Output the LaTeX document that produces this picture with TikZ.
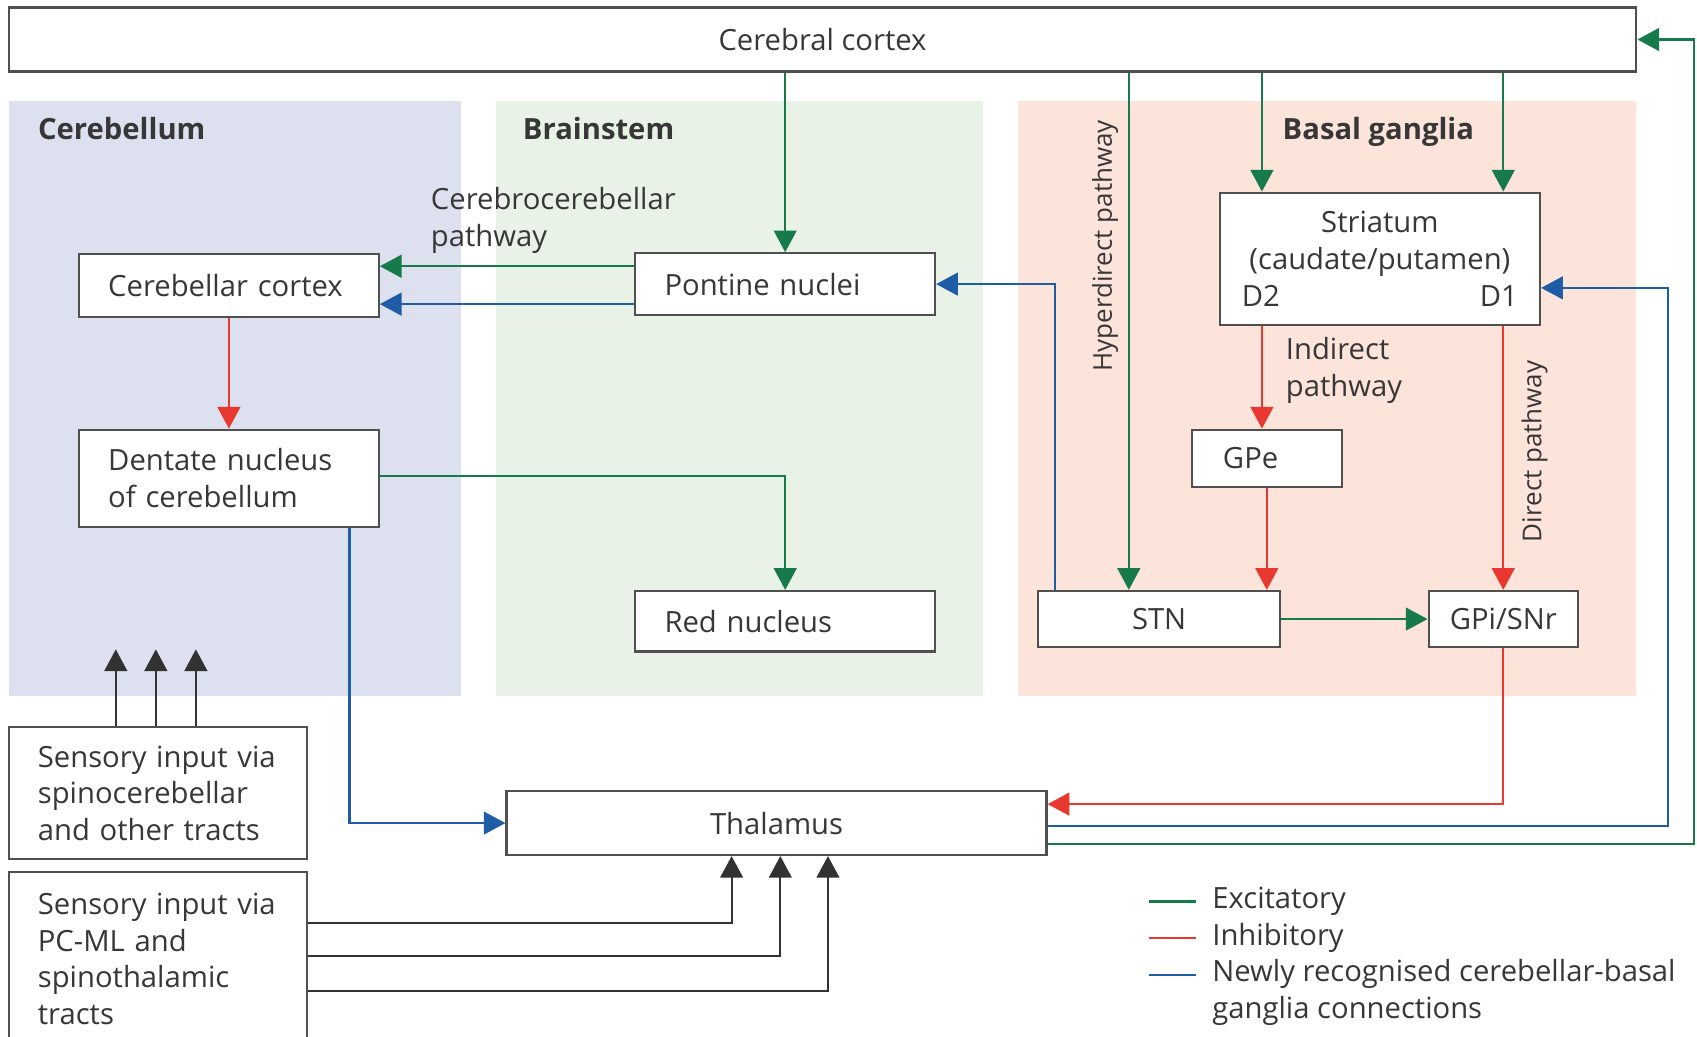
\documentclass[tikz,border=0pt]{standalone}
\usepackage{fontspec}
\setmainfont{Open Sans}
\usetikzlibrary{arrows.meta,calc}
\definecolor{cgreen}{RGB}{22,122,74}
\definecolor{cred}{RGB}{232,56,47}
\definecolor{cblue}{RGB}{30,92,166}
\definecolor{cblack}{RGB}{50,50,50}
\definecolor{boxgray}{RGB}{80,80,80}
\definecolor{txt}{RGB}{55,55,55}
\definecolor{pcereb}{RGB}{220,224,239}
\definecolor{pbrain}{RGB}{233,242,230}
\definecolor{pbasal}{RGB}{252,228,218}
\newcommand\fsmain{\fontsize{27}{34}\selectfont}
\newcommand\fsrot{\fontsize{24}{30}\selectfont}
\newcommand\fstitle{\bfseries\fontsize{27}{34}\selectfont}
\tikzset{
  box/.style={draw=boxgray, line width=2pt, fill=white, inner sep=0pt, font=\fsmain, text=txt},
  lbox/.style={box, align=left, inner xsep=27pt},
  cbox/.style={box, align=center},
  lab/.style={inner sep=0pt, font=\fsmain, text=txt, align=left},
  rlab/.style={inner sep=0pt, font=\fsrot, text=txt, rotate=90},
  ttl/.style={inner sep=0pt, font=\fstitle, text=txt, anchor=base west},
  tip/.style={-{Triangle[length=20pt,width=21pt]}},
  excl/.style={tip, draw=cgreen, line width=2pt},
  inhl/.style={tip, draw=cred, line width=2pt},
  newl/.style={tip, draw=cblue, line width=2pt},
  sensl/.style={tip, draw=cblack, line width=2pt},
}
\begin{document}
\begin{tikzpicture}[x=1pt,y=-1pt]
\clip (0,0) rectangle (1568,958);
\fill[white] (0,0) rectangle (1568,958);
% panels
\fill[pcereb] (8,93) rectangle (426,643);
\fill[pbrain] (458,93) rectangle (908,643);
\fill[pbasal] (941,93) rectangle (1512,643);
\node[ttl] (tcereb) at (35,129) {Cerebellum};
\node[ttl] (tbrain) at (483,129) {Brainstem};
\node[ttl] (tbasal) at (1185,129) {Basal ganglia};
% boxes
\node[cbox, minimum width=1504pt, minimum height=59pt] (cortex) at (760,36.5) {Cerebral cortex};
\node[lbox, text width=223pt, minimum height=58pt] (cbcortex) at (211.5,264) {Cerebellar cortex};
\node[lbox, text width=223pt, minimum height=57pt] (pontine) at (725.5,262.5) {Pontine nuclei};
\node[lbox, text width=223pt, minimum height=90pt] (dentate) at (211.5,442) {Dentate nucleus\\of cerebellum};
\node[lbox, text width=223pt, minimum height=56pt] (rednuc) at (725.5,574) {Red nucleus};
\node[cbox, text width=255pt, inner xsep=20.5pt, minimum height=122pt] (striatum) at (1275,239) {Striatum\\(caudate/putamen)\\\makebox[255pt]{D2\hfill D1}};
\node[lbox, inner xsep=29pt, text width=81pt, minimum height=53pt] (gpe) at (1170.5,423.5) {GPe};
\node[cbox, minimum width=224pt, minimum height=52pt] (stn) at (1071,572) {STN};
\node[cbox, minimum width=138pt, minimum height=52pt] (gpi) at (1389,572) {GPi/SNr};
\node[cbox, minimum width=499pt, minimum height=59pt] (thal) at (717.5,760.5) {Thalamus};
\node[lbox, text width=222pt, minimum height=122pt] (sens1) at (146,733) {Sensory input via\\spinocerebellar\\and other tracts};
\node[lbox, text width=222pt, minimum height=160pt] (sens2) at (146,886) {Sensory input via\\PC-ML and\\spinothalamic\\tracts};
% labels
\node[lab, anchor=west] (lcc) at (398,204) {Cerebrocerebellar\\pathway};
\node[lab, anchor=west] (lind) at (1188,342) {Indirect\\pathway};
\node[rlab] (lhyp) at (1021,227) {Hyperdirect pathway};
\node[rlab] (ldir) at (1418,417) {Direct pathway};
% coordinates
\coordinate (pg) at ($(pontine.west)+(0,-16.5)$);
\coordinate (pb) at ($(pontine.west)+(0,18.5)$);
\coordinate (dx) at ($(dentate.south east)+(-28,0)$);
\coordinate (hx) at (1043,0);
\coordinate (d2x) at (1166,0);
\coordinate (stnb) at (975,0);
\coordinate (gr) at ($(thal.east)+(0,-17.5)$);
\coordinate (tbs) at ($(thal.east)+(0,2.5)$);
\coordinate (tgs) at ($(thal.east)+(0,19.5)$);
\coordinate (tb) at (1541,266);
\coordinate (tc) at (1565,36.5);
\coordinate (sa) at (107,600);
\coordinate (sb) at (144,600);
\coordinate (sc) at (181,600);
\coordinate (ta) at (676,853);
\coordinate (tbb) at (721,883);
\coordinate (tcc) at (765,916);
% connectors
\draw[excl] (cortex.south -| pontine) -- (pontine.north);
\draw[excl] (pg) -- (cbcortex.east |- pg);
\draw[newl] (pb) -- (cbcortex.east |- pb);
\draw[inhl] (cbcortex.south) -- (dentate.north);
\draw[excl] ($(dentate.east)+(0,-2)$) -| (rednuc.north);
\draw[newl] (dx) |- (thal.west);
\draw[sensl] (sens1.north -| sa) -- (sa);
\draw[sensl] (sens1.north -| sb) -- (sb);
\draw[sensl] (sens1.north -| sc) -- (sc);
\draw[sensl] (sens2.east |- ta) -| (thal.south -| ta);
\draw[sensl] (sens2.east |- tbb) -| (thal.south -| tbb);
\draw[sensl] (sens2.east |- tcc) -| (thal.south -| tcc);
\draw[newl] (stn.north -| stnb) |- (pontine.east);
\draw[excl] (cortex.south -| hx) -- (stn.north -| hx);
\draw[excl] (cortex.south -| d2x) -- (striatum.north -| d2x);
\draw[excl] (cortex.south -| gpi) -- (striatum.north -| gpi);
\draw[inhl] (striatum.south -| d2x) -- (gpe.north -| d2x);
\draw[inhl] (gpe.south) -- (stn.north -| gpe);
\draw[excl] (stn.east) -- (gpi.west);
\draw[inhl] (striatum.south -| gpi) -- (gpi.north);
\draw[inhl] (gpi.south) |- (gr);
\draw[newl] (tbs) -| (tb) -- (striatum.east |- tb);
\draw[excl] (tgs) -| (tc) -- (cortex.east);
% legend
\coordinate (la1) at (1062,833); \coordinate (la2) at (1105,833);
\coordinate (lb1) at (1062,867); \coordinate (lb2) at (1105,867);
\coordinate (lc1) at (1062,901); \coordinate (lc2) at (1105,901);
\draw[cgreen, line width=2pt] (la1) -- (la2);
\draw[cred, line width=2pt] (lb1) -- (lb2);
\draw[cblue, line width=2pt] (lc1) -- (lc2);
\node[lab, anchor=west] (lgexc) at (1120,833) {Excitatory};
\node[lab, anchor=west] (lginh) at (1120,867) {Inhibitory};
\node[lab, anchor=north west] (lgnew) at (1120,886) {Newly recognised cerebellar-basal\\ganglia connections};
\end{tikzpicture}
\end{document}
